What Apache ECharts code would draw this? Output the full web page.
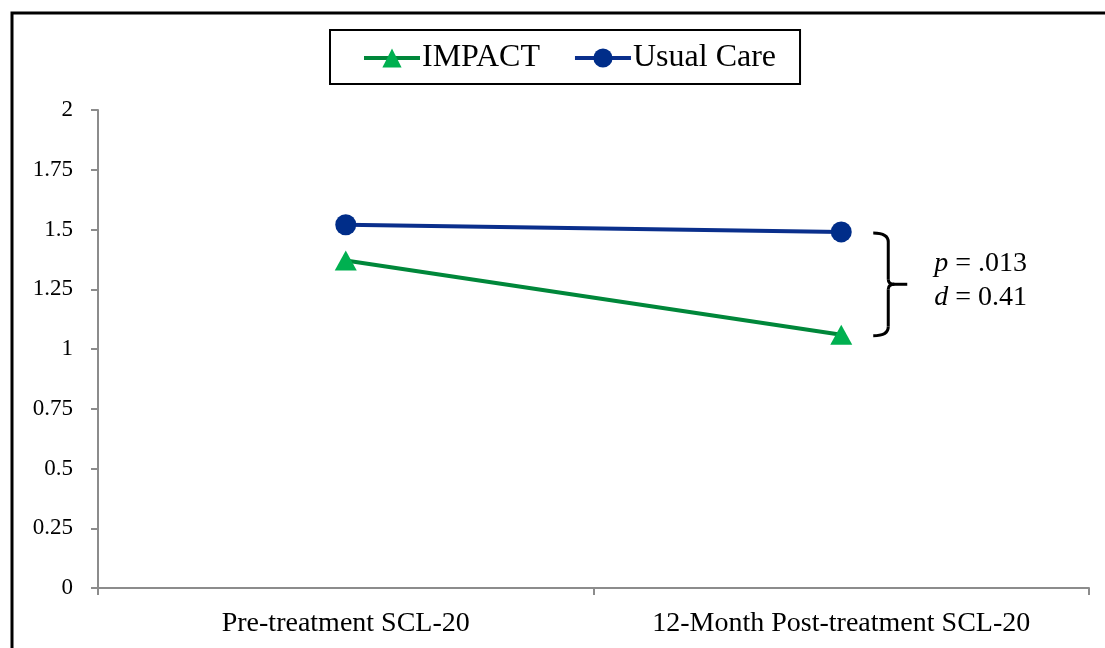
<!DOCTYPE html>
<html>
<head>
<meta charset="utf-8">
<script src="https://cdn.jsdelivr.net/npm/echarts@6/dist/echarts.min.js"></script>
<style>
html,body{margin:0;padding:0;background:#fff;}
#c{width:1105px;height:648px;}
</style>
</head>
<body>
<div id="c"></div>
<script>
const categories = ['Pre-treatment SCL-20', '12-Month Post-treatment SCL-20'];
const impactValues = [1.37, 1.06];
const usualCareValues = [1.52, 1.49];
const yTicks = { min: 0, max: 2, interval: 0.25 };
const annotationP = '.013';
const annotationD = '0.41';

const FONT = '"Liberation Serif", "Times New Roman", serif';
const chart = echarts.init(document.getElementById('c'));

const option = {
  animation: false,
  backgroundColor: '#fff',
  grid: { left: 98, right: 16, top: 110, bottom: 60, containLabel: false },
  legend: {
    data: ['IMPACT', 'Usual Care'],
    left: 330,
    top: 30,
    padding: [12, 24, 10, 32],
    itemGap: 33,
    itemWidth: 56,
    itemHeight: 24,
    borderColor: '#000',
    borderWidth: 2,
    lineStyle: { width: 4 },
    textStyle: { fontFamily: FONT, fontSize: 32, color: '#000', padding: [0,0,0,-3] }
  },
  xAxis: {
    type: 'category',
    data: categories,
    boundaryGap: true,
    axisLine: { lineStyle: { color: '#8c8c8c', width: 2 } },
    axisTick: { show: true, alignWithLabel: false, length: 7, lineStyle: { color: '#8c8c8c', width: 2 } },
    axisLabel: { fontFamily: FONT, fontSize: 28, color: '#000', margin: 22 },
    splitLine: { show: false }
  },
  yAxis: {
    type: 'value',
    min: yTicks.min,
    max: yTicks.max,
    interval: yTicks.interval,
    axisLine: { show: true, lineStyle: { color: '#8c8c8c', width: 2 } },
    axisTick: { show: true, length: 7, lineStyle: { color: '#8c8c8c', width: 2 } },
    axisLabel: { fontFamily: FONT, fontSize: 23, color: '#000', margin: 25,
      formatter: v => String(v) },
    splitLine: { show: false }
  },
  series: [
    {
      name: 'IMPACT',
      type: 'line',
      data: impactValues,
      symbol: 'triangle',
      symbolSize: [22, 20],
      lineStyle: { color: '#00873a', width: 4 },
      itemStyle: { color: '#00b050' },
      z: 2
    },
    {
      name: 'Usual Care',
      type: 'line',
      data: usualCareValues,
      symbol: 'circle',
      symbolSize: 21,
      lineStyle: { color: '#0a2f8c', width: 4 },
      itemStyle: { color: '#002d89' },
      z: 3
    }
  ]
};
chart.setOption(option);

// Annotation positioned from the data through the chart's scales
const topPt = chart.convertToPixel({ seriesIndex: 1 }, [1, usualCareValues[1]]);
const botPt = chart.convertToPixel({ seriesIndex: 0 }, [1, impactValues[1]]);
const bx = topPt[0] + 32;
const y1 = topPt[1] + 1, y2 = botPt[1] + 1;
const ym = (y1 + y2) / 2;
const bw = 15;
const vx = bx + bw;
const braceStyle = { stroke: '#000', lineWidth: 3, fill: null };

chart.setOption({
  graphic: [
    { type: 'polyline', shape: { points: [[12, 648], [12, 13], [1105, 13]] },
      style: { stroke: '#000', lineWidth: 3, fill: null }, silent: true },
    { type: 'bezierCurve', shape: { x1: bx, y1: y1, cpx1: vx, cpy1: y1, x2: vx, y2: y1 + 9 }, style: braceStyle, silent: true },
    { type: 'line', shape: { x1: vx, y1: y1 + 9, x2: vx, y2: ym - 5 }, style: braceStyle, silent: true },
    { type: 'bezierCurve', shape: { x1: vx, y1: ym - 5, cpx1: vx, cpy1: ym, x2: vx + 6, y2: ym }, style: braceStyle, silent: true },
    { type: 'bezierCurve', shape: { x1: vx, y1: ym + 5, cpx1: vx, cpy1: ym, x2: vx + 6, y2: ym }, style: braceStyle, silent: true },
    { type: 'line', shape: { x1: vx + 5, y1: ym, x2: vx + 19, y2: ym }, style: braceStyle, silent: true },
    { type: 'line', shape: { x1: vx, y1: ym + 5, x2: vx, y2: y2 - 9 }, style: braceStyle, silent: true },
    { type: 'bezierCurve', shape: { x1: vx, y1: y2 - 9, cpx1: vx, cpy1: y2, x2: bx, y2: y2 }, style: braceStyle, silent: true },
    { type: 'text', x: vx + 46, y: ym - 38,
      style: {
        text: '{i|p} = ' + annotationP + '\n{i|d} = ' + annotationD,
        fontFamily: FONT, fontSize: 28, fill: '#000', lineHeight: 34,
        rich: { i: { fontStyle: 'italic', fontFamily: FONT, fontSize: 28, fill: '#000', lineHeight: 34 } }
      }, silent: true }
  ]
});
</script>
</body>
</html>
